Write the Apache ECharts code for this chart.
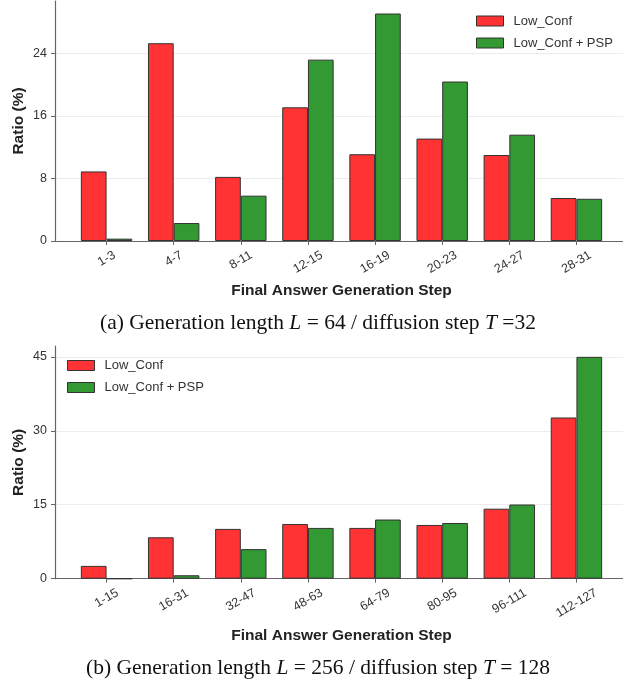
<!DOCTYPE html>
<html>
<head>
<meta charset="utf-8">
<script src="https://cdn.jsdelivr.net/npm/echarts@6/dist/echarts.min.js"></script>
<style>
html,body{margin:0;padding:0;background:#fff;}
#c{width:623px;height:680px;}
</style>
</head>
<body>
<div id="c"></div>
<script>
// ---- data ----
const catsA = ['1-3','4-7','8-11','12-15','16-19','20-23','24-27','28-31'];
const lowConfA = [8.9, 25.3, 8.2, 17.1, 11.1, 13.1, 11.0, 5.5];
const pspA = [0.3, 2.3, 5.8, 23.2, 29.1, 20.4, 13.6, 5.4];
const ticksA = {min: 0, max: 30.7, interval: 8};

const catsB = ['1-15','16-31','32-47','48-63','64-79','80-95','96-111','112-127'];
const lowConfB = [2.6, 8.4, 10.1, 11.1, 10.3, 10.9, 14.2, 32.7];
const pspB = [0.0, 0.7, 6.0, 10.3, 12.0, 11.3, 15.05, 45.0];
const ticksB = {min: 0, max: 47.2, interval: 15};

const seriesNames = ['Low_Conf', 'Low_Conf + PSP'];
const xTitle = 'Final Answer Generation Step';
const yTitle = 'Ratio (%)';
const captionA = '(a) Generation length {i|L} = 64 / diffusion step {i|T} =32';
const captionB = '(b) Generation length {i|L} = 256 / diffusion step {i|T} = 128';

// ---- styles ----
const SANS = '"Liberation Sans", Arial, Helvetica, sans-serif';
const SERIF = '"Liberation Serif", "Times New Roman", serif';
const RED = '#ff3333', GREEN = '#339933', EDGE = '#333333', AXIS = '#666666';
const TICK_FS = 12.5;

const chart = echarts.init(document.getElementById('c'), null, {renderer: 'canvas'});

// rotated labels centred under their tick, top of rotated box at a fixed gap (matplotlib ha='center')
const mctx = document.createElement('canvas').getContext('2d');
mctx.font = TICK_FS + 'px ' + SANS;
function catItems(cats) {
  return cats.map(c => {
    const D = mctx.measureText(c).width / 4 + 9;
    return {value: c, textStyle: {
      align: 'center', verticalAlign: 'top',
      fontFamily: SANS, fontSize: TICK_FS, color: '#333',
      padding: [Math.max(0, 0.866 * D - TICK_FS / 2), D, 0, 0]}};
  });
}

function frameAxes(gridIdx, t) {
  return {
    x: {type: 'value', gridIndex: gridIdx, min: 0, max: 1,
        axisLine: {show: true, lineStyle: {color: AXIS, width: 1.2}},
        axisTick: {show: false}, axisLabel: {show: false}, splitLine: {show: false}},
    y: {type: 'value', gridIndex: gridIdx, min: t.min, max: t.max, interval: t.interval,
        name: yTitle, nameLocation: 'middle', nameGap: 28, nameMoveOverlap: false,
        nameTextStyle: {fontFamily: SANS, fontSize: 15.5, fontWeight: 'bold', color: '#222'},
        axisLine: {show: true, lineStyle: {color: AXIS, width: 1.2}},
        axisTick: {show: true, length: 4, lineStyle: {color: AXIS}},
        axisLabel: {fontFamily: SANS, fontSize: TICK_FS, color: '#333', margin: 8, showMaxLabel: false},
        splitLine: {show: true, lineStyle: {color: ['#ececec','#ececec','#ececec','#ececec','rgba(0,0,0,0)'], width: 1}}}
  };
}
function dataAxes(gridIdx, cats, t, nameGap) {
  return {
    x: {type: 'category', gridIndex: gridIdx, data: catItems(cats),
        name: xTitle, nameLocation: 'middle', nameGap: nameGap, nameMoveOverlap: false,
        nameTextStyle: {fontFamily: SANS, fontSize: 15.5, fontWeight: 'bold', color: '#222'},
        axisLine: {show: false},
        axisTick: {show: true, alignWithLabel: true, length: 4, lineStyle: {color: AXIS}},
        axisLabel: {fontFamily: SANS, fontSize: TICK_FS, color: '#333', rotate: 30, margin: 4,
                    align: 'center', verticalAlign: 'top', interval: 0, hideOverlap: false}},
    y: {type: 'value', gridIndex: gridIdx, min: t.min, max: t.max, show: false, splitLine: {show: false}}
  };
}

const fA = frameAxes(0, ticksA), dA = dataAxes(1, catsA, ticksA, 42);
const fB = frameAxes(2, ticksB), dB = dataAxes(3, catsB, ticksB, 49);

function bar(name, data, color, xi) {
  return {
    type: 'bar', name: name, data: data, xAxisIndex: xi, yAxisIndex: xi,
    barGap: '0%', barCategoryGap: '23.4%',
    itemStyle: {color: color, borderColor: EDGE, borderWidth: 1},
    emphasis: {disabled: true}, animation: false
  };
}

const legendCommon = {
  orient: 'vertical', itemWidth: 27, itemHeight: 10, itemGap: 9, padding: 0,
  icon: 'rect',
  itemStyle: {borderWidth: 1, borderColor: '#333'},
  textStyle: {fontFamily: SANS, fontSize: 13, color: '#333', padding: [0, 0, 0, 5]},
  data: seriesNames
};

chart.setOption({
  animation: false,
  backgroundColor: '#fff',
  grid: [
    {left: 55, top: 1, width: 568, height: 240},
    {left: 73, top: 1, width: 537, height: 240},
    {left: 55, top: 346, width: 568, height: 232.7},
    {left: 73, top: 346, width: 537, height: 232.7}
  ],
  xAxis: [fA.x, dA.x, fB.x, dB.x],
  yAxis: [fA.y, dA.y, fB.y, dB.y],
  legend: [
    Object.assign({left: 476, top: 14.5}, legendCommon),
    Object.assign({left: 67, top: 359}, legendCommon)
  ],
  series: [
    bar(seriesNames[0], lowConfA, RED, 1),
    bar(seriesNames[1], pspA, GREEN, 1),
    bar(seriesNames[0], lowConfB, RED, 3),
    bar(seriesNames[1], pspB, GREEN, 3)
  ],
  graphic: [
    {type: 'text', x: 318, y: 323, silent: true,
     style: {text: captionA, font: '21.5px ' + SERIF, fill: '#111', align: 'center', verticalAlign: 'middle',
             rich: {i: {fontStyle: 'italic', fontFamily: SERIF, fontSize: 21.5}}}},
    {type: 'text', x: 318, y: 668, silent: true,
     style: {text: captionB, font: '21.5px ' + SERIF, fill: '#111', align: 'center', verticalAlign: 'middle',
             rich: {i: {fontStyle: 'italic', fontFamily: SERIF, fontSize: 21.5}}}}
  ]
});
</script>
</body>
</html>
